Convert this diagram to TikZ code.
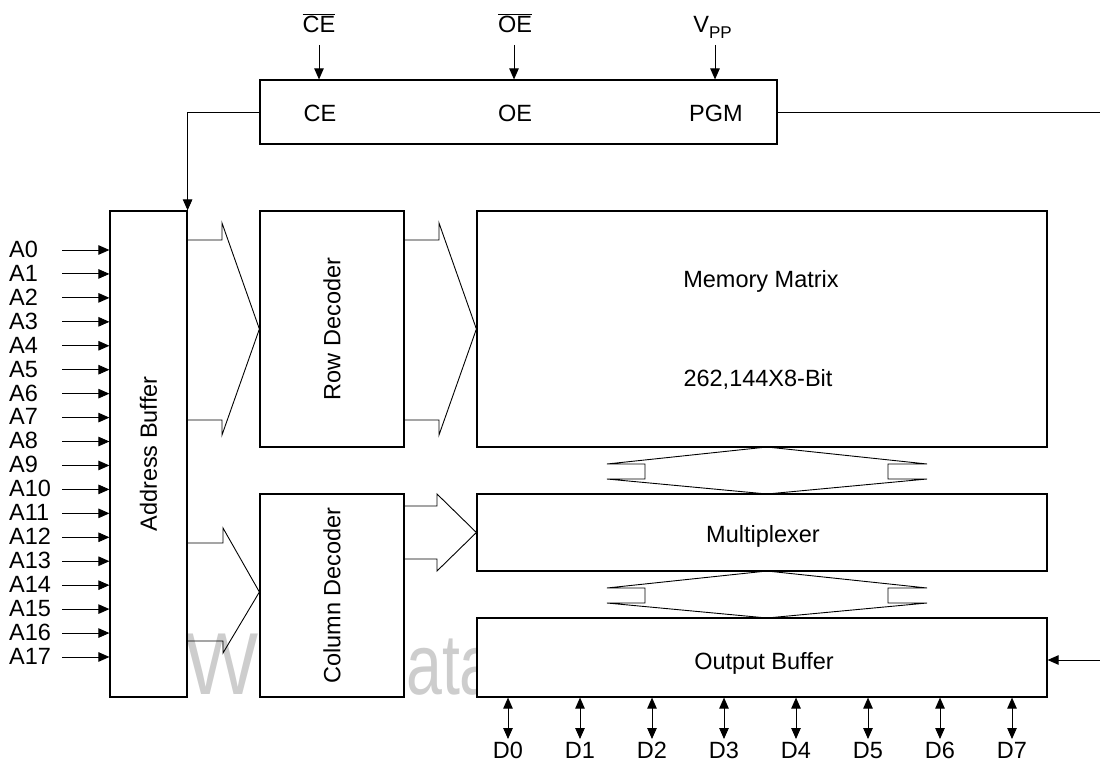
\documentclass[tikz,border=0pt]{standalone}
\usepackage{fontspec}
\setmainfont{Liberation Sans}
\usetikzlibrary{arrows.meta}
\definecolor{wmgray}{RGB}{205,205,205}
\begin{document}
\begin{tikzpicture}[x=1pt,y=-1pt,
  txt/.style={font=\fontsize{23.5}{28}\selectfont, inner sep=0pt, text height=16.8pt, text depth=0pt},
  blk/.style={draw=black, line width=1.2pt, fill=white, inner sep=0pt},
  conn/.style={line width=0.9pt},
  arr/.style={conn, -{Triangle[length=11pt,width=9.5pt]}},
  darr/.style={conn, {Triangle[length=11pt,width=9.5pt]}-{Triangle[length=11pt,width=9.5pt]}},
  hollow/.style={line width=0.9pt, line join=miter},
  wmark/.style={anchor=base west, inner sep=0pt, text=wmgray}
]
\useasboundingbox (0,0) rectangle (1100,762);

% watermark (partly hidden behind the blocks)
\node[wmark, font=\fontsize{88}{90}\selectfont] (wm1) at (185,694) {\scalebox{0.88}[1]{W}};
\node[wmark, font=\fontsize{86}{90}\selectfont] (wm2) at (406,694) {\scalebox{0.75}[1]{ata}};

% blocks
\node[blk, minimum width=517pt, minimum height=64pt] (ctrl) at (518.5,112) {};
\node[blk, minimum width=77pt, minimum height=486pt] (addr) at (148.5,454) {};
\node[blk, minimum width=144pt, minimum height=236pt] (row) at (332,329) {};
\node[blk, minimum width=144pt, minimum height=203pt] (col) at (332,595.5) {};
\node[blk, minimum width=570pt, minimum height=236pt] (mem) at (762,329) {};
\node[blk, minimum width=570pt, minimum height=77pt] (mux) at (762,532.5) {};
\node[blk, minimum width=570pt, minimum height=79pt] (obuf) at (762,657.5) {};

% block texts
\node[txt] (ceI) at (320,113) {CE};
\node[txt] (oeI) at (515,113) {OE};
\node[txt] (pgmI) at (716,113) {PGM};
\node[txt, rotate=90] (addrT) at (addr.center) {Address Buffer};
\node[txt, rotate=90] (rowT) at (row.center) {Row Decoder};
\node[txt, rotate=90] (colT) at (col.center) {Column Decoder};
\node[txt] (mmT) at (761,279) {Memory Matrix};
\node[txt] (mmS) at (758,378) {262,144X8-Bit};
\node[txt] (muxT) at (763,534) {Multiplexer};
\node[txt] (obT) at (764,661) {Output Buffer};

% control inputs
\node[txt] (ceb) at (319,24) {$\overline{\hbox{CE}}$};
\node[txt] (oeb) at (515,24) {$\overline{\hbox{OE}}$};
\node[txt] (vpp) at (712.5,24) {V\raisebox{-6pt}{\fontsize{17}{17}\selectfont PP}};
\coordinate (ceA) at (319,45);
\coordinate (oeA) at (514,45);
\coordinate (vpA) at (715,45);
\draw[arr] (ceA) -- (ceA |- ctrl.north);
\draw[arr] (oeA) -- (oeA |- ctrl.north);
\draw[arr] (vpA) -- (vpA |- ctrl.north);

% control connections
\draw[arr] (ctrl.west) -| (addr.north east);
\coordinate (rt) at (1100,112);
\draw[conn] (ctrl.east) -- (rt);
\coordinate (rb) at (1100,660);
\draw[arr] (rb) -- (rb -| obuf.east);

% address inputs
\foreach \i in {0,...,17} {
  \pgfmathsetmacro{\yy}{250+\i*23.94}
  \node[txt, anchor=west] (A\i) at (9,\yy-1) {A\i};
  \coordinate (a\i) at (62,\yy);
  \draw[arr] (a\i) -- (a\i -| addr.west);
}

% data lines
\foreach \i in {0,...,7} {
  \pgfmathsetmacro{\xx}{508+\i*72}
  \coordinate (d\i) at (\xx,739);
  \draw[darr] (d\i |- obuf.south) -- (d\i);
  \node[txt] (D\i) at (\xx,750) {D\i};
}

% wide bus arrows
\draw[hollow] (addr.east |- 0,240) -- (222,240) -- (222,223) -- (row.west)
  -- (222,435) -- (222,420) -- (addr.east |- 0,420);
\draw[hollow] (row.east |- 0,240) -- (439,240) -- (439,223) -- (mem.west)
  -- (439,435) -- (439,420) -- (row.east |- 0,420);
\draw[hollow] (addr.east |- 0,543) -- (223,543) -- (223,528) -- (col.west |- 0,592)
  -- (223,653) -- (223,641) -- (addr.east |- 0,641);
\draw[hollow] (col.east |- 0,506) -- (437,506) -- (437,494) -- (mux.west)
  -- (437,571) -- (437,559) -- (col.east |- 0,559);

% bidirectional bus arrows
\draw[hollow] (767,447) -- (607,464) -- (645,464) -- (645,479) -- (607,479)
  -- (767,494) -- (927,479) -- (888,479) -- (888,464) -- (927,464) -- cycle;
\draw[hollow] (767,571) -- (607,588) -- (645,588) -- (645,603) -- (607,603)
  -- (767,618) -- (927,603) -- (888,603) -- (888,588) -- (927,588) -- cycle;
\end{tikzpicture}
\end{document}
